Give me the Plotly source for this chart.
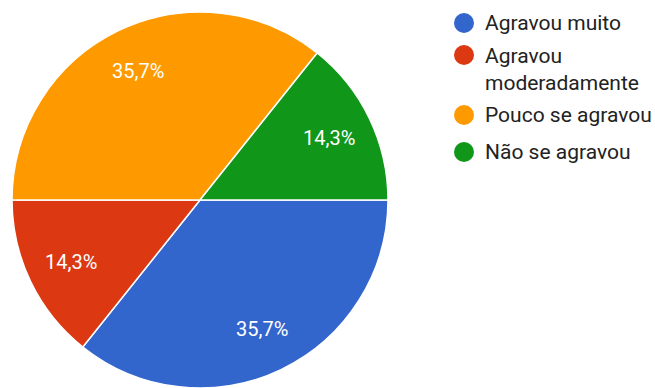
import math
import plotly.graph_objects as go

# Survey answers and their counts
labels = ["Agravou muito", "Agravou moderadamente", "Pouco se agravou", "Não se agravou"]
legend_text = ["Agravou muito", "Agravou<br>moderadamente", "Pouco se agravou", "Não se agravou"]
counts = [5, 2, 5, 2]
colors = ["#3366CC", "#DC3912", "#FF9900", "#109618"]

W, H = 655, 388
CX, CY, R = 200, 200, 188   # pie centre and radius in pixels
START_DEG = 90              # first slice starts at 3 o'clock, clockwise

fig = go.Figure()
fig.add_trace(go.Pie(
    labels=labels,
    values=counts,
    marker=dict(colors=colors, line=dict(color="white", width=1.5)),
    sort=False,
    direction="clockwise",
    rotation=START_DEG,
    textinfo="none",
    showlegend=False,
    domain=dict(x=[(CX - R) / W, (CX + R) / W], y=[1 - (CY + R) / H, 1 - (CY - R) / H]),
))

annotations = []
shapes = []

# Percent labels on each slice, placed along the slice bisector
total = sum(counts)
acc = 0
for v in counts:
    mid = START_DEG + (acc + v / 2) / total * 360
    acc += v
    a = math.radians(mid)
    px = CX + 0.76 * R * math.sin(a)
    py = CY - 0.76 * R * math.cos(a)
    pct = f"{v / total * 100:.1f}%".replace(".", ",")
    annotations.append(dict(
        x=px / W, y=1 - py / H, xref="paper", yref="paper", text=pct,
        showarrow=False, font=dict(family="Roboto", size=20, color="#FFFFFF"),
        xanchor="center", yanchor="middle",
    ))

# Legend with round swatches (dot centre y, text block centre y)
dot_y = [23, 55, 115, 152]
text_y = [23, 69, 115, 152]
for name, col, dy, ty in zip(legend_text, colors, dot_y, text_y):
    shapes.append(dict(
        type="circle", xref="paper", yref="paper",
        x0=(464 - 10) / W, x1=(464 + 10) / W,
        y0=1 - (dy + 10) / H, y1=1 - (dy - 10) / H,
        fillcolor=col, line=dict(width=0),
    ))
    annotations.append(dict(
        x=483 / W, y=1 - ty / H, xref="paper", yref="paper", text=name,
        showarrow=False, align="left", xanchor="left", yanchor="middle",
        font=dict(family="Roboto", size=21, color="#222222"),
    ))

fig.update_layout(
    width=W, height=H,
    margin=dict(l=0, r=0, t=0, b=0),
    paper_bgcolor="white", plot_bgcolor="white",
    annotations=annotations, shapes=shapes,
)

fig.write_html("out.html")
